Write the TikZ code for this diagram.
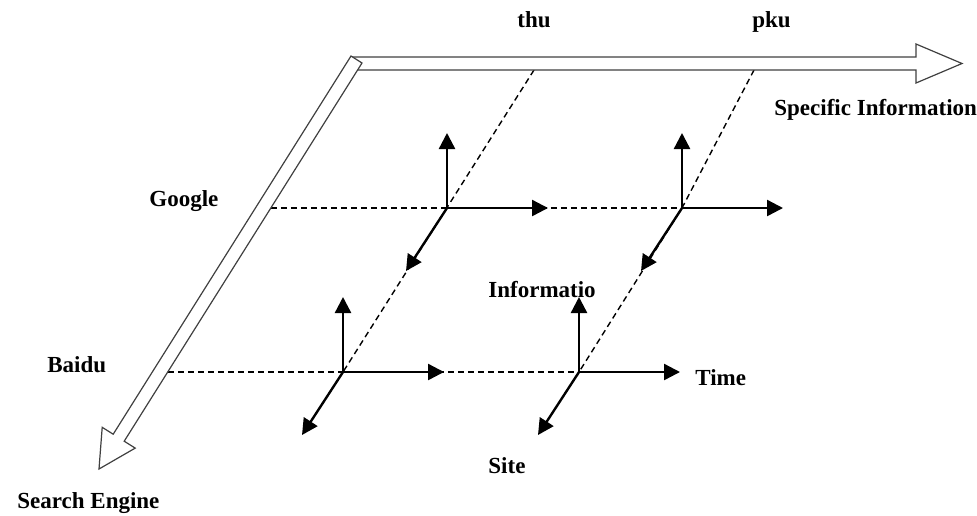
\documentclass[tikz,border=0pt]{standalone}
\usepackage{fontspec}
\setmainfont{Liberation Serif}
\usepackage{tikz}
\usetikzlibrary{arrows.meta}
\tikzstyle{bigarrow}=[draw=black!75, line width=0.6pt, fill=white, line join=miter]
\tikzstyle{axis}=[line width=1.2pt, -{Triangle[length=8pt,width=8pt]}]
\tikzstyle{guide}=[line width=0.7pt, dash pattern=on 3pt off 2pt]
\tikzstyle{tag}=[anchor=base west, inner sep=0pt, font=\fontsize{11.5}{13}\selectfont\bfseries]

\begin{document}
\begin{tikzpicture}[x=0.5pt, y=-0.5pt]
  \useasboundingbox (0,0) rectangle (977,515);
  % origins of the small axes
  \coordinate (g1) at (447,208);
  \coordinate (g2) at (682,208);
  \coordinate (b1) at (343,372);
  \coordinate (b2) at (579,372);
  % where the dashed guides leave the big arrows
  \coordinate (thutop) at (534,70);
  \coordinate (pkutop) at (754,70);
  \coordinate (googlestart) at (270.9,208);
  \coordinate (baidustart) at (167.9,372);
  \draw[guide] (thutop) -- (b1);
  \draw[guide] (pkutop) -- (g2) -- (b2);
  \draw[guide] (googlestart) -- (g2);
  \draw[guide] (baidustart) -- (b2);
  % big arrows
  \draw[bigarrow] (352,57) -- (916,57) -- (916,44) -- (962,63.5) -- (916,83) -- (916,70) -- (352,70);
  \draw[bigarrow] (351.0,56.0) -- (113.2,434.2) -- (102.2,427.3) -- (99,469)
        -- (135.2,448.1) -- (124.2,441.2) -- (362.0,63.0) -- cycle;
  % small axes
  \foreach \o in {g1,g2,b1,b2}{
    \path (\o) ++(0,-75) coordinate (\o-up);
    \path (\o) ++(101,0) coordinate (\o-right);
    \path (\o) ++(-41,63) coordinate (\o-down);
    \draw[axis] (\o) -- (\o-up);
    \draw[axis] (\o) -- (\o-right);
    \draw[axis] (\o) -- (\o-down);
  }
  % labels
  \node (thu) [tag] at (517,27) {thu};
  \node (pku) [tag] at (752,27) {pku};
  \node (specinfo) [tag] at (774,115) {Specific Information};
  \node (google) [tag] at (149,206) {Google};
  \node (baidu) [tag] at (47,372) {Baidu};
  \node (searchengine) [tag] at (17,508) {Search Engine};
  \node (info) [tag] at (488,297) {Informatio};
  \node (time) [tag] at (695,385) {Time};
  \node (site) [tag] at (488,473) {Site};
\end{tikzpicture}
\end{document}
